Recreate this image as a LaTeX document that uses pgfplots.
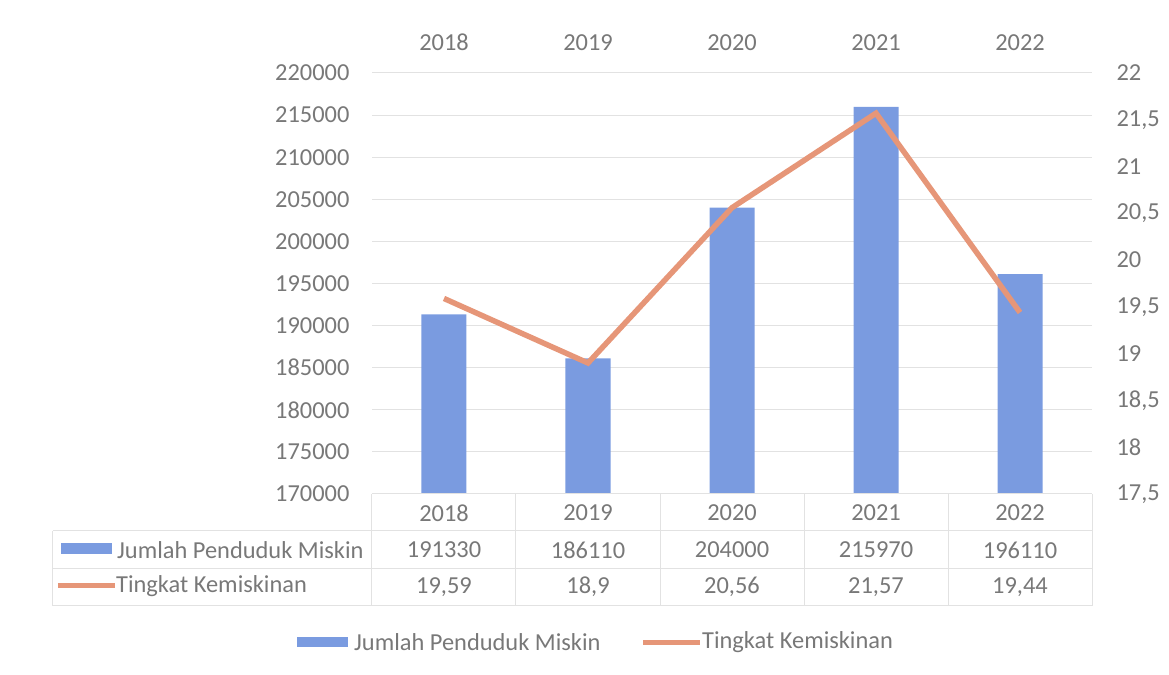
\documentclass[border=0pt]{standalone}
\usepackage{pgfplots}
\pgfplotsset{compat=1.18}
\usepackage{fontspec}
\setmainfont{Carlito}
\definecolor{barblue}{RGB}{122,155,224}
\definecolor{lineorange}{RGB}{230,150,120}
\definecolor{txtgray}{RGB}{120,120,120}
\definecolor{gridgray}{RGB}{226,226,226}

\begin{document}
\begin{tikzpicture}
\pgfplotsset{every axis/.append style={
  width=720bp, height=421bp, scale only axis,
  xmin=-0.5, xmax=4.5,
  axis line style={draw=none}, major tick length=0,
  tick label style={font=\fontsize{24.5}{28}\selectfont, text=txtgray},
}}

% bars: Jumlah Penduduk Miskin
\begin{axis}[
  anchor=origin, at={(0,0)},
  ymin=170000, ymax=220000,
  ytick={170000,175000,...,220000},
  xtick={0,...,4}, xticklabels={2018,2019,2020,2021,2022},
  xticklabel pos=upper,
  ymajorgrids, grid style={gridgray, line width=1bp},
  yticklabel style={xshift=-19bp},
  xticklabel style={yshift=19bp},
  scaled y ticks=false,
  yticklabel={\pgfmathprintnumber[fixed,1000 sep={},assume math mode=true]{\tick}},
]
\coordinate (O) at (rel axis cs:0,0);
\addplot[ybar, bar width=45bp, fill=barblue, draw=none]
  coordinates {(0,191330)(1,186110)(2,204000)(3,215970)(4,196110)};
\end{axis}

% line: Tingkat Kemiskinan
\begin{axis}[
  anchor=origin, at={(0,0)},
  ymin=17.5, ymax=22,
  ytick={17.5,18,...,22},
  axis y line*=right, axis x line=none,
  yticklabel style={xshift=21bp},
  yticklabel={\pgfmathprintnumber[fixed,use comma,assume math mode=true]{\tick}},
]
\addplot[lineorange, line width=5.5bp, no marks]
  coordinates {(0,19.59)(1,18.9)(2,20.56)(3,21.57)(4,19.44)};
\end{axis}

\begin{scope}[shift={(O)}]
\begin{scope}[x=1bp, y=1bp, shift={(-372,-181)},
  every node/.style={font=\fontsize{24.5}{28}\selectfont, text=txtgray}]
\path[use as bounding box] (0,0) rectangle (1169,675);

% data table
\draw[gridgray, line width=1bp] (372,181) -- (1092,181);
\foreach \yy in {144,106,69} \draw[gridgray, line width=1bp] (53,\yy) -- (1092,\yy);
\foreach \xx in {372,516,660,804,948,1092} \draw[gridgray, line width=1bp] (\xx,181) -- (\xx,69);
\draw[gridgray, line width=1bp] (53,144) -- (53,69);

\foreach \lab [count=\i from 0] in {2018,2019,2020,2021,2022}
  \node at (444+144*\i,162) {\lab};
\foreach \lab [count=\i from 0] in {191330,186110,204000,215970,196110}
  \node at (444+144*\i,125) {\lab};
\node at (444,88) {19,59};
\node at (588,88) {18,9};
\node at (732,88) {20,56};
\node at (876,88) {21,57};
\node at (1020,88) {19,44};

\fill[barblue] (61,121) rectangle (112,132);
\node[anchor=west, inner sep=0] at (117,125) {Jumlah Penduduk Miskin};
\draw[lineorange, line width=5bp] (58,89) -- (115,89);
\node[anchor=west, inner sep=0] at (116,89) {Tingkat Kemiskinan};

% legend
\fill[barblue] (297,28) rectangle (348,38);
\node[anchor=west, inner sep=0] at (354,33) {Jumlah Penduduk Miskin};
\draw[lineorange, line width=5bp] (643,32) -- (700,32);
\node[anchor=west, inner sep=0] at (702,33) {Tingkat Kemiskinan};
\end{scope}
\end{scope}
\end{tikzpicture}
\end{document}
